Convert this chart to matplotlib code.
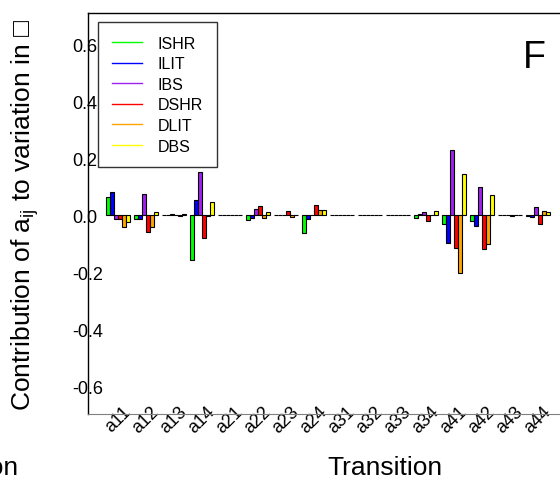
import numpy as np
import matplotlib
matplotlib.use("Agg")
import matplotlib.pyplot as plt
from matplotlib.lines import Line2D

plt.rcParams['font.family'] = ['Liberation Sans', 'DejaVu Sans']
plt.rcParams['mathtext.fontset'] = 'custom'
plt.rcParams['mathtext.rm'] = 'Liberation Sans'
plt.rcParams['mathtext.default'] = 'regular'
plt.rcParams['mathtext.fallback'] = 'stixsans'

transitions = ['a11', 'a12', 'a13', 'a14', 'a21', 'a22', 'a23', 'a24',
               'a31', 'a32', 'a33', 'a34', 'a41', 'a42', 'a43', 'a44']

series_names = ['ISHR', 'ILIT', 'IBS', 'DSHR', 'DLIT', 'DBS']
series_colors = ['#00FF00', '#0000FF', '#A020F0', '#FF0000', '#FFA500', '#FFFF00']

ishr = [0.063, -0.014, 0.001, -0.158, 0.001, -0.016, 0.001, -0.062,
        0.001, 0.001, 0.001, -0.009, -0.030, -0.021, 0.001, -0.002]
ilit = [0.081, -0.014, 0.001, 0.052, 0.001, -0.010, 0.001, -0.014,
        0.001, 0.001, 0.001, 0.003, -0.097, -0.037, -0.001, -0.005]
ibs = [-0.013, 0.074, 0.004, 0.152, 0.001, 0.022, 0.002, 0.002,
       0.001, 0.001, 0.001, 0.010, 0.230, 0.097, 0.002, 0.027]
dshr = [-0.013, -0.058, 0.001, -0.081, 0.001, 0.031, 0.016, 0.037,
        0.001, 0.001, 0.001, -0.021, -0.114, -0.120, -0.002, -0.030]
dlit = [-0.041, -0.042, -0.002, -0.003, 0.001, -0.010, -0.007, 0.018,
        0.001, 0.001, 0.001, 0.001, -0.203, -0.101, 0.001, 0.013]
dbs = [-0.025, 0.011, 0.004, 0.046, 0.001, 0.012, 0.001, 0.018,
       0.001, 0.001, 0.001, 0.016, 0.145, 0.072, 0.001, 0.010]

yticks = [-0.6, -0.4, -0.2, 0.0, 0.2, 0.4, 0.6]

fig = plt.figure(figsize=(5.6, 4.85), dpi=100)
ax = fig.add_axes([0.1571, 0.1443, 0.8429, 0.8268])

x = np.arange(len(transitions))
w = 1 / 7
all_series = [ishr, ilit, ibs, dshr, dlit, dbs]
for j, (vals, col) in enumerate(zip(all_series, series_colors)):
    ax.bar(x + (j - 2.5) * w, vals, width=w, color=col,
           edgecolor='black', linewidth=0.8)

ax.set_xlim(-1.071, 15.786)
ax.set_ylim(-0.698, 0.709)

ax.spines['right'].set_visible(False)
ax.spines['bottom'].set_color('#808080')
ax.spines['left'].set_linewidth(1)
ax.spines['top'].set_linewidth(1)

ax.set_yticks(yticks)
ax.set_yticklabels(['%.1f' % v for v in yticks], fontsize=13, ha='left')
ax.tick_params(axis='y', length=0, pad=11.5)

ax.set_xticks(x)
ax.set_xticklabels(transitions, rotation=45, ha='center', fontsize=13)
ax.tick_params(axis='x', length=0, pad=-8.5)

handles = [Line2D([0], [0], color=c, lw=1) for c in series_colors]
leg = ax.legend(handles, series_names, loc='upper left',
                bbox_to_anchor=(0.0212, 0.9776), borderaxespad=0,
                fontsize=11.5, frameon=True, fancybox=False,
                handlelength=1.9, handletextpad=1.0, borderpad=0.85,
                labelspacing=0.35)
leg.get_frame().set_edgecolor('black')
leg.get_frame().set_linewidth(1)

ax.text(0.946, 0.89, 'F', transform=ax.transAxes, fontsize=27,
        ha='center', va='center')

fig.text(25 / 560, 1 - 214.5 / 485,
         'Contribution of a$_{ij}$ to variation in \u25a1',
         rotation=90, ha='center', va='center', fontsize=19)
fig.text(384.5 / 560, 1 - 468 / 485, 'Transition',
         ha='center', va='center', fontsize=19)
fig.text(19 / 560, 1 - 468 / 485, 'Transition',
         ha='right', va='center', fontsize=19)

fig.savefig('out.png', dpi=100)
